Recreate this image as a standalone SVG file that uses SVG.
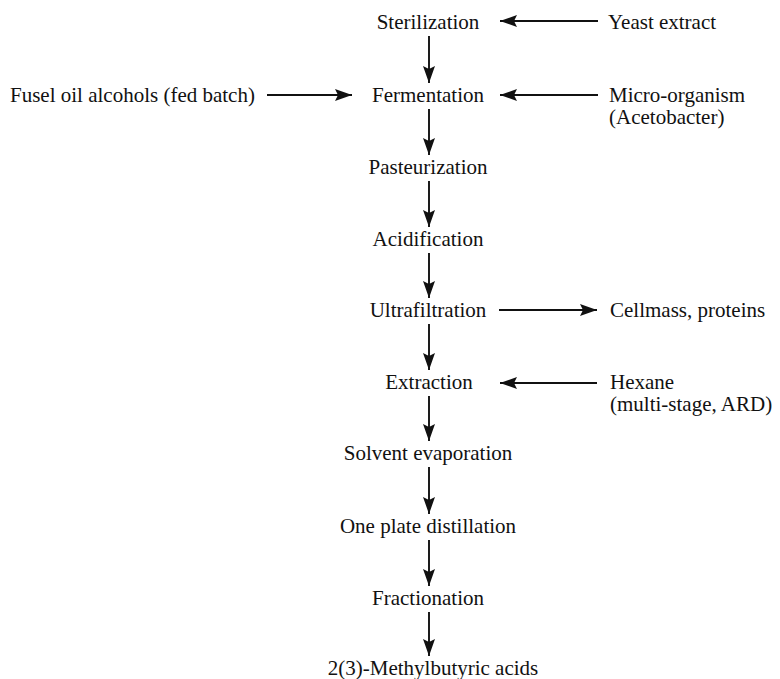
<svg xmlns="http://www.w3.org/2000/svg" width="780" height="679" viewBox="0 0 780 679">
<defs>
<style>
text{font-family:'Liberation Serif',Tinos,'Times New Roman',Times,'DejaVu Serif','Noto Serif',serif;font-size:21px;fill:#111}
.c{text-anchor:middle}
.ln{stroke:#111;stroke-width:1.9;fill:none}
</style>
<marker id="ah" markerUnits="userSpaceOnUse" markerWidth="18" markerHeight="12" refX="17" refY="6" orient="auto">
<path d="M0,0 L17,6 L0,12 L3,6 Z" fill="#111"/>
</marker>
</defs>
<rect width="780" height="679" fill="#fff"/>
<g id="connectors">
<line class="ln" x1="429" y1="36" x2="429" y2="83" marker-end="url(#ah)"/>
<line class="ln" x1="429" y1="109" x2="429" y2="155" marker-end="url(#ah)"/>
<line class="ln" x1="429" y1="181" x2="429" y2="227" marker-end="url(#ah)"/>
<line class="ln" x1="429" y1="253" x2="429" y2="298" marker-end="url(#ah)"/>
<line class="ln" x1="429" y1="324" x2="429" y2="370" marker-end="url(#ah)"/>
<line class="ln" x1="429" y1="396" x2="429" y2="441" marker-end="url(#ah)"/>
<line class="ln" x1="429" y1="467" x2="429" y2="514" marker-end="url(#ah)"/>
<line class="ln" x1="429" y1="540" x2="429" y2="586" marker-end="url(#ah)"/>
<line class="ln" x1="429" y1="612" x2="429" y2="656" marker-end="url(#ah)"/>
<line class="ln" x1="598" y1="21" x2="500" y2="21" marker-end="url(#ah)"/>
<line class="ln" x1="267" y1="95" x2="352" y2="95" marker-end="url(#ah)"/>
<line class="ln" x1="598" y1="95" x2="500" y2="95" marker-end="url(#ah)"/>
<line class="ln" x1="499" y1="310" x2="597" y2="310" marker-end="url(#ah)"/>
<line class="ln" x1="597" y1="383" x2="500" y2="383" marker-end="url(#ah)"/>
</g>
<g id="sterilization"><text class="c" x="428" y="29">Sterilization</text></g>
<g id="yeast"><text x="608" y="29">Yeast extract</text></g>
<g id="fusel"><text x="10" y="102">Fusel oil alcohols (fed batch)</text></g>
<g id="fermentation"><text class="c" x="428" y="102">Fermentation</text></g>
<g id="microorganism"><text x="609" y="102">Micro-organism</text><text x="609" y="124">(Acetobacter)</text></g>
<g id="pasteurization"><text class="c" x="428" y="174">Pasteurization</text></g>
<g id="acidification"><text class="c" x="428" y="246">Acidification</text></g>
<g id="ultrafiltration"><text class="c" x="428" y="317">Ultrafiltration</text></g>
<g id="cellmass"><text x="610" y="317">Cellmass, proteins</text></g>
<g id="extraction"><text class="c" x="429" y="389">Extraction</text></g>
<g id="hexane"><text x="610" y="389">Hexane</text><text x="610" y="411">(multi-stage, ARD)</text></g>
<g id="solvent"><text class="c" x="428" y="460">Solvent evaporation</text></g>
<g id="oneplate"><text class="c" x="428" y="533">One plate distillation</text></g>
<g id="fractionation"><text class="c" x="428" y="605">Fractionation</text></g>
<g id="product"><text class="c" x="433" y="675">2(3)-Methylbutyric acids</text></g>
</svg>
